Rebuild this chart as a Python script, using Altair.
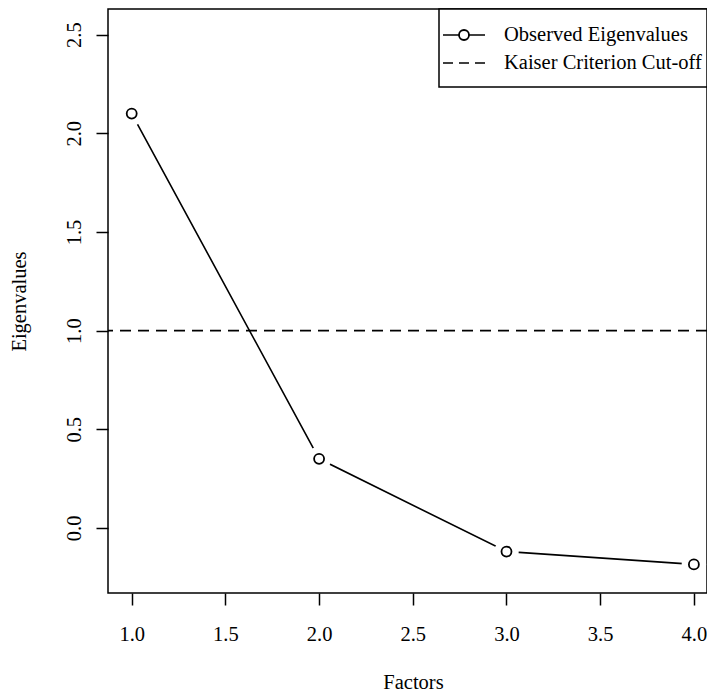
import altair as alt
import pandas as pd

# ---- data ----
factors = [1, 2, 3, 4]
eigenvalues = [2.10, 0.35, -0.12, -0.185]
kaiser_cutoff = [1.0]
legend_labels = ["Observed Eigenvalues", "Kaiser Criterion Cut-off"]
x_ticks = [1.0, 1.5, 2.0, 2.5, 3.0, 3.5, 4.0]
y_ticks = [0.0, 0.5, 1.0, 1.5, 2.0, 2.5]

df = pd.DataFrame({"Factor": factors, "Eigenvalue": eigenvalues})
cut = pd.DataFrame({"cut": kaiser_cutoff})
one = pd.DataFrame({"k": [0]})

FONT = "Liberation Serif"
FS = 20.5
W, H = 599, 584

xscale = alt.Scale(domain=[0.8735, 4.070], nice=False, zero=False)
yscale = alt.Scale(domain=[-0.330, 2.630], nice=False, zero=False)

x_enc = alt.X(
    "Factor:Q", scale=xscale,
    axis=alt.Axis(values=x_ticks, format=".1f", title="Factors",
                  labelPadding=19, titleX=305, titleY=95,
                  titleBaseline="alphabetic", titleAlign="center"),
)
y_enc = alt.Y(
    "Eigenvalue:Q", scale=yscale,
    axis=alt.Axis(values=y_ticks, format=".1f", title="Eigenvalues",
                  labelAngle=270, labelAlign="center", labelBaseline="alphabetic",
                  labelPadding=16, titleAngle=270, titleX=-83, titleY=H / 2,
                  titleBaseline="alphabetic", titleAlign="center"),
)

base = alt.Chart(df)
line = base.mark_line(color="black", strokeWidth=1.6).encode(x=x_enc, y=y_enc)
halo = base.mark_circle(color="white", size=600, opacity=1).encode(x="Factor:Q", y="Eigenvalue:Q")
rule = alt.Chart(cut).mark_rule(color="black", strokeWidth=1.6, strokeDash=[11, 7]).encode(
    y=alt.Y("cut:Q", scale=yscale)
)
points = base.mark_point(shape="circle", filled=False, color="black", size=100,
                         strokeWidth=1.8, opacity=1).encode(x="Factor:Q", y="Eigenvalue:Q")

# ---- legend (drawn as decoration in the top right corner) ----
lg_box = alt.Chart(one).mark_rect(fill="white", stroke="black", strokeWidth=1.5).encode(
    x=alt.value(331), x2=alt.value(W), y=alt.value(0), y2=alt.value(78)
)
lg_line = alt.Chart(one).mark_rule(color="black", strokeWidth=1.6).encode(
    x=alt.value(335), x2=alt.value(377), y=alt.value(26)
)
lg_pt = alt.Chart(one).mark_point(shape="circle", filled=True, fill="white", stroke="black",
                                  size=100, strokeWidth=1.8, opacity=1).encode(
    x=alt.value(356), y=alt.value(26)
)
lg_dash = alt.Chart(one).mark_rule(color="black", strokeWidth=1.6, strokeDash=[10, 6]).encode(
    x=alt.value(335), x2=alt.value(377), y=alt.value(54)
)
lg_t1 = alt.Chart(one).mark_text(text=legend_labels[0], align="left", baseline="middle",
                                 font=FONT, fontSize=FS, color="black").encode(
    x=alt.value(396), y=alt.value(26)
)
lg_t2 = alt.Chart(one).mark_text(text=legend_labels[1], align="left", baseline="middle",
                                 font=FONT, fontSize=FS, color="black").encode(
    x=alt.value(396), y=alt.value(54)
)

chart = (
    alt.layer(line, halo, rule, points, lg_box, lg_line, lg_pt, lg_dash, lg_t1, lg_t2)
    .properties(
        width=W, height=H,
        autosize=alt.AutoSizeParams(type="none"),
        padding={"left": 100, "top": 1, "right": 0, "bottom": 100},
        background="white",
    )
    .configure_view(stroke="black", strokeWidth=1.5, fill="white")
    .configure_axis(
        domain=False, grid=False, ticks=True, tickColor="black", tickSize=12, tickWidth=1.5,
        labelFont=FONT, labelFontSize=FS, labelColor="black",
        titleFont=FONT, titleFontSize=FS, titleFontWeight="normal", titleColor="black",
        labelOverlap=False, labelFlush=False,
    )
)

chart.save("out.html", embed_options={"renderer": "svg", "actions": False})
